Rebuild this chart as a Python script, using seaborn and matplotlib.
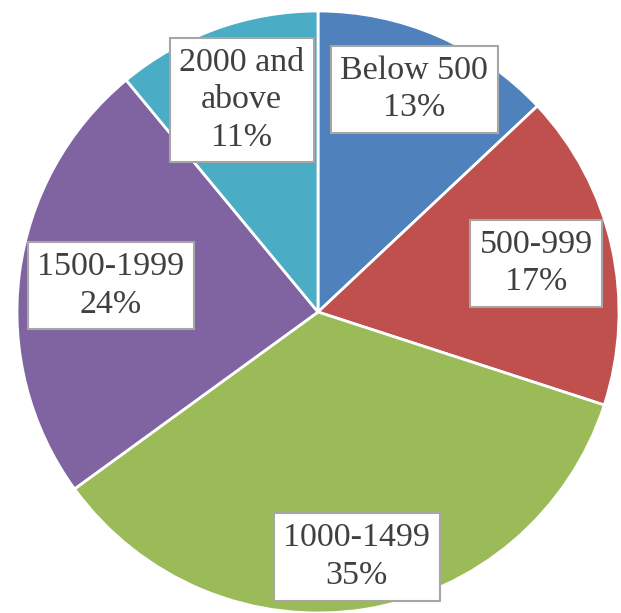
import numpy as np
import matplotlib
matplotlib.use('Agg')
import matplotlib.pyplot as plt
import seaborn as sns

# income bands and shares (%)
bands = ['Below 500', '500-999', '1000-1499', '1500-1999', '2000 and\nabove']
shares = [13, 17, 35, 24, 11]
colors = ['#4F81BD', '#C0504D', '#9BBB59', '#8064A2', '#4BACC6']

sns.set_theme(style='white')
plt.rcParams['font.family'] = ['Liberation Serif', 'DejaVu Serif']

fig = plt.figure(figsize=(6.21, 6.13), dpi=100)
ax = fig.add_axes([0, 0, 1, 1])
wedges, _ = ax.pie(shares, colors=colors, startangle=90, counterclock=False,
                   radius=1.0, wedgeprops=dict(edgecolor='white', linewidth=2))

# label distance from centre for each wedge (best-fit style placement)
dist = [0.806, 0.743, 0.824, 0.694, 0.749]
for w, lab, s, d in zip(wedges, bands, shares, dist):
    ang = np.deg2rad((w.theta1 + w.theta2) / 2)
    ax.text(d * np.cos(ang), d * np.sin(ang), f'{lab}\n{s}%',
            ha='center', va='center', fontsize=24.5, color='#404040',
            linespacing=1.3,
            bbox=dict(boxstyle='square,pad=0.28', facecolor='white',
                      edgecolor='#a6a6a6', linewidth=1.5))

# pixel-matched view: centre at (318, 312) px, radius 301 px
s = 301.0
ax.set_aspect('auto')
ax.set_xlim(-318 / s, (621 - 318) / s)
ax.set_ylim(-(613 - 312) / s, 312 / s)
ax.axis('off')
fig.savefig('out.png', dpi=100, facecolor='white')
